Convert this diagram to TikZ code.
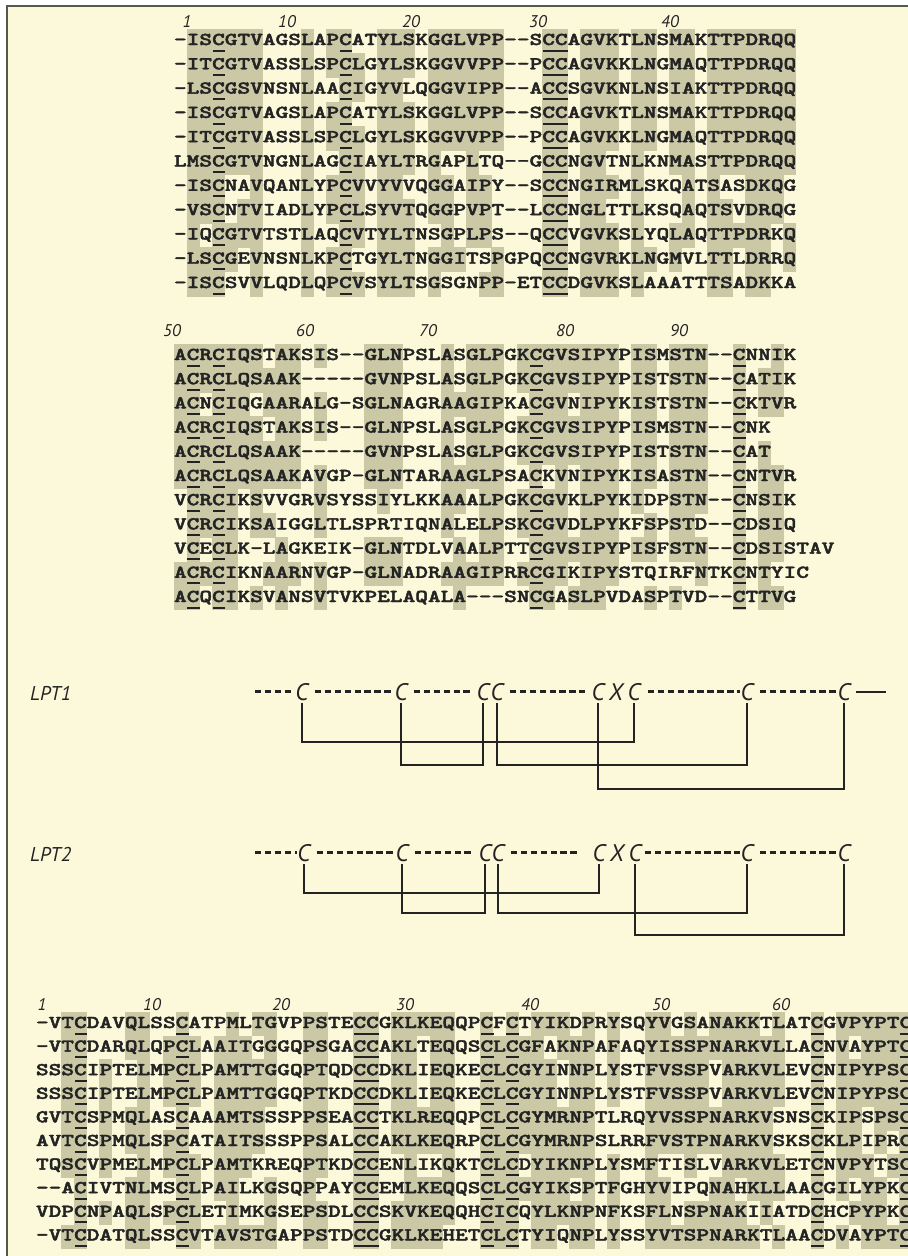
\documentclass[tikz,border=0pt]{standalone}
\usepackage{fontspec}
\newfontfamily\lblfont{PT Sans}
\IfFontExistsTF{lmmonolt10-bold.otf}
  {\newfontfamily\seqfont{lmmonolt10-bold.otf}[FakeBold=2]}
  {\newcommand\seqfont{\ttfamily\bfseries}}
\definecolor{bgcream}{HTML}{FCF9DA}
\definecolor{shadegray}{HTML}{CBC8A6}
\definecolor{framegray}{HTML}{57574E}
\definecolor{inkdark}{HTML}{232323}
\newcommand\RSpitch{12.7}
\newcommand\RSxs{1.3341}
\tikzset{
  seqrow/.style={anchor=base west, inner sep=0pt, outer sep=0pt, text=inkdark,
    font=\seqfont\fontsize{18.2}{20}\selectfont},
  rulerlbl/.style={anchor=base, inner sep=0pt, text=inkdark,
    font=\lblfont\itshape\fontsize{17}{18}\selectfont},
  lptlbl/.style={anchor=base west, inner sep=0pt, text=inkdark,
    font=\lblfont\itshape\fontsize{20}{22}\selectfont},
  cys/.style={anchor=base, inner sep=0pt, text=inkdark,
    font=\lblfont\itshape\fontsize{24}{26}\selectfont},
  dashseg/.style={draw=inkdark, line width=3pt, dash pattern=on 6.3pt off 3.7pt},
  tailseg/.style={draw=inkdark, line width=2pt},
  bond/.style={draw=inkdark, line width=1.3pt},
  shadecell/.style={fill=shadegray},
  ulbar/.style={fill=inkdark},
}
\newcommand\RSshade[5]{\fill[shadecell] ({#1+(#5-1)*\RSpitch-0.15},{#2+(#4-1)*#3-0.66*#3-0.25}) rectangle ({#1+#5*\RSpitch+0.15},{#2+(#4-1)*#3+0.34*#3+0.25});}
\newcommand\RSul[5]{\fill[ulbar] ({#1+(#5-1)*\RSpitch+0.5},{#2+(#4-1)*#3+4.6}) rectangle ({#1+#5*\RSpitch+0.5},{#2+(#4-1)*#3+6.6});}
\newcommand\RSrow[6]{\node[seqrow] (#1) at ({#2},{#3+(#5-1)*#4}) {\scalebox{\RSxs}[1]{#6}};}

\ExplSyntaxOn
\seq_new:N \l__rs_rows_seq
\int_new:N \l__rs_nrows_int
\int_new:N \l__rs_maxlen_int
\int_new:N \l__rs_col_int
\int_new:N \l__rs_r_int
\int_new:N \l__rs_cnt_int
\int_new:N \l__rs_best_int
\tl_new:N \l__rs_best_tl
\tl_new:N \l__rs_c_tl
\tl_new:N \l__rs_g_tl
\tl_new:N \l__rs_tmp_tl
\tl_new:N \l__rs_colstr_tl
\tl_new:N \l__rs_x_tl
\tl_new:N \l__rs_y_tl
\tl_new:N \l__rs_dy_tl
\tl_new:N \l__rs_name_tl
\tl_new:N \l__rs_text_tl
\tl_new:N \l__rs_ul_tl
\tl_const:Nn \c__rs_C_tl {C}

\cs_new_protected:Npn \__rs_group:nN #1#2
  {
    \str_case:nnF {#1}
      {
        {I}{\tl_set:Nn #2 {L}}
        {L}{\tl_set:Nn #2 {L}}
        {V}{\tl_set:Nn #2 {L}}
        {M}{\tl_set:Nn #2 {L}}
        {S}{\tl_set:Nn #2 {S}}
        {T}{\tl_set:Nn #2 {S}}
        {D}{\tl_set:Nn #2 {D}}
        {E}{\tl_set:Nn #2 {D}}
        {N}{\tl_set:Nn #2 {N}}
        {Q}{\tl_set:Nn #2 {N}}
        {K}{\tl_set:Nn #2 {K}}
        {R}{\tl_set:Nn #2 {K}}
        {F}{\tl_set:Nn #2 {F}}
        {Y}{\tl_set:Nn #2 {F}}
        {W}{\tl_set:Nn #2 {F}}
        {A}{\tl_set:Nn #2 {A}}
        {G}{\tl_set:Nn #2 {G}}
        {P}{\tl_set:Nn #2 {P}}
        {C}{\tl_set:Nn #2 {C}}
        {H}{\tl_set:Nn #2 {H}}
      }
      { \tl_set:Nn #2 {.} }
  }
\cs_generate_variant:Nn \__rs_group:nN { V }

\cs_new_protected:Npn \__rs_len:n #1
  {
    \int_set:Nn \l__rs_maxlen_int
      { \int_max:nn { \l__rs_maxlen_int } { \str_count:n {#1} } }
  }

\cs_new_protected:Npn \__rs_addrow:n #1
  {
    \tl_set:Nx \l__rs_c_tl { \str_item:nn {#1} { \l__rs_col_int } }
    \__rs_group:VN \l__rs_c_tl \l__rs_g_tl
    \tl_put_right:NV \l__rs_colstr_tl \l__rs_g_tl
  }

\cs_new_protected:Npn \__rs_mark:n #1
  {
    \int_incr:N \l__rs_r_int
    \tl_set:Nx \l__rs_c_tl { \str_item:nn {#1} { \l__rs_col_int } }
    \__rs_group:VN \l__rs_c_tl \l__rs_g_tl
    \int_compare:nNnT { 2 * \l__rs_best_int } > { \l__rs_nrows_int }
      {
        \tl_if_eq:NNT \l__rs_g_tl \l__rs_best_tl
          {
            \use:x
              {
                \exp_not:N \RSshade
                  { \l__rs_x_tl } { \l__rs_y_tl } { \l__rs_dy_tl }
                  { \int_use:N \l__rs_r_int } { \int_use:N \l__rs_col_int }
              }
            \tl_if_eq:NNT \l__rs_g_tl \c__rs_C_tl
              {
                \tl_put_right:Nx \l__rs_ul_tl
                  {
                    \exp_not:N \RSul
                      { \l__rs_x_tl } { \l__rs_y_tl } { \l__rs_dy_tl }
                      { \int_use:N \l__rs_r_int } { \int_use:N \l__rs_col_int }
                  }
              }
          }
      }
  }

\cs_new_protected:Npn \__rs_column:n #1
  {
    \int_set:Nn \l__rs_col_int {#1}
    \tl_clear:N \l__rs_colstr_tl
    \seq_map_function:NN \l__rs_rows_seq \__rs_addrow:n
    \int_zero:N \l__rs_best_int
    \tl_set:Nn \l__rs_best_tl {.}
    \clist_map_inline:nn {L,S,D,N,K,F,A,G,P,C,H}
      {
        \tl_set_eq:NN \l__rs_tmp_tl \l__rs_colstr_tl
        \tl_remove_all:Nn \l__rs_tmp_tl {##1}
        \int_set:Nn \l__rs_cnt_int
          { \tl_count:N \l__rs_colstr_tl - \tl_count:N \l__rs_tmp_tl }
        \int_compare:nNnT { \l__rs_cnt_int } > { \l__rs_best_int }
          {
            \int_set_eq:NN \l__rs_best_int \l__rs_cnt_int
            \tl_set:Nn \l__rs_best_tl {##1}
          }
      }
    \int_zero:N \l__rs_r_int
    \seq_map_function:NN \l__rs_rows_seq \__rs_mark:n
  }

\cs_new_protected:Npn \__rs_rowtext:n #1
  {
    \int_incr:N \l__rs_r_int
    \tl_set:Nn \l__rs_text_tl {#1}
    \tl_replace_all:Nnn \l__rs_text_tl { - } { \mbox{-} }
    \use:x
      {
        \exp_not:N \RSrow
          { \l__rs_name_tl \int_use:N \l__rs_r_int }
          { \l__rs_x_tl } { \l__rs_y_tl } { \l__rs_dy_tl } { \int_use:N \l__rs_r_int }
          { \exp_not:V \l__rs_text_tl }
      }
  }

\NewDocumentCommand \SeqBlock { m m m m m }
  {
    \tl_set:Nn \l__rs_x_tl {#1}
    \tl_set:Nn \l__rs_y_tl {#2}
    \tl_set:Nn \l__rs_dy_tl {#3}
    \tl_set:Nn \l__rs_name_tl {#4}
    \seq_set_from_clist:Nn \l__rs_rows_seq {#5}
    \int_set:Nn \l__rs_nrows_int { \seq_count:N \l__rs_rows_seq }
    \int_zero:N \l__rs_maxlen_int
    \seq_map_function:NN \l__rs_rows_seq \__rs_len:n
    \tl_clear:N \l__rs_ul_tl
    \int_step_function:nN { \l__rs_maxlen_int } \__rs_column:n
    \tl_use:N \l__rs_ul_tl
    \int_zero:N \l__rs_r_int
    \seq_map_function:NN \l__rs_rows_seq \__rs_rowtext:n
  }
\ExplSyntaxOff

\begin{document}
\begin{tikzpicture}[x=1bp, y=-1bp]
\useasboundingbox (0,0) rectangle (908,1256);
\fill[white] (0,0) rectangle (908,1256);
\fill[bgcream] (7,6) rectangle (908,1256);

% ---------- top block ----------
\node[rulerlbl] (tn1)  at (187,27) {1};
\node[rulerlbl] (tn10) at (287,27) {10};
\node[rulerlbl] (tn20) at (411,27) {20};
\node[rulerlbl] (tn30) at (538,27) {30};
\node[rulerlbl] (tn40) at (670,27) {40};
\SeqBlock{174}{45}{24.3}{top}{
-ISCGTVAGSLAPCATYLSKGGLVPP--SCCAGVKTLNSMAKTTPDRQQ,
-ITCGTVASSLSPCLGYLSKGGVVPP--PCCAGVKKLNGMAQTTPDRQQ,
-LSCGSVNSNLAACIGYVLQGGVIPP--ACCSGVKNLNSIAKTTPDRQQ,
-ISCGTVAGSLAPCATYLSKGGLVPP--SCCAGVKTLNSMAKTTPDRQQ,
-ITCGTVASSLSPCLGYLSKGGVVPP--PCCAGVKKLNGMAQTTPDRQQ,
LMSCGTVNGNLAGCIAYLTRGAPLTQ--GCCNGVTNLKNMASTTPDRQQ,
-ISCNAVQANLYPCVVYVVQGGAIPY--SCCNGIRMLSKQATSASDKQG,
-VSCNTVIADLYPCLSYVTQGGPVPT--LCCNGLTTLKSQAQTSVDRQG,
-IQCGTVTSTLAQCVTYLTNSGPLPS--QCCVGVKSLYQLAQTTPDRKQ,
-LSCGEVNSNLKPCTGYLTNGGITSPGPQCCNGVRKLNGMVLTTLDRRQ,
-ISCSVVLQDLQPCVSYLTSGSGNPP-ETCCDGVKSLAAATTTSADKKA}

% ---------- middle block ----------
\node[rulerlbl] (mn50) at (172,336) {50};
\node[rulerlbl] (mn60) at (305,336) {60};
\node[rulerlbl] (mn70) at (428,336) {70};
\node[rulerlbl] (mn80) at (565,336) {80};
\node[rulerlbl] (mn90) at (679,336) {90};
\SeqBlock{174}{360}{24.2}{mid}{
ACRCIQSTAKSIS--GLNPSLASGLPGKCGVSIPYPISMSTN--CNNIK,
ACRCLQSAAK-----GVNPSLASGLPGKCGVSIPYPISTSTN--CATIK,
ACNCIQGAARALG-SGLNAGRAAGIPKACGVNIPYKISTSTN--CKTVR,
ACRCIQSTAKSIS--GLNPSLASGLPGKCGVSIPYPISMSTN--CNK,
ACRCLQSAAK-----GVNPSLASGLPGKCGVSIPYPISTSTN--CAT,
ACRCLQSAAKAVGP-GLNTARAAGLPSACKVNIPYKISASTN--CNTVR,
VCRCIKSVVGRVSYSSIYLKKAAALPGKCGVKLPYKIDPSTN--CNSIK,
VCRCIKSAIGGLTLSPRTIQNALELPSKCGVDLPYKFSPSTD--CDSIQ,
VCECLK-LAGKEIK-GLNTDLVAALPTTCGVSIPYPISFSTN--CDSISTAV,
ACRCIKNAARNVGP-GLNADRAAGIPRRCGIKIPYSTQIRFNTKCNTYIC,
ACQCIKSVANSVTVKPELAQALA---SNCGASLPVDASPTVD--CTTVG}

% ---------- LPT1 ----------
\node[lptlbl] (lpt1) at (30,700) {LPT1};
\node[cys] (a1) at (302,700) {C};
\node[cys] (a2) at (401,700) {C};
\node[cys] (a3) at (483,700) {C};
\node[cys] (a4) at (497,700) {C};
\node[cys] (a5) at (598,700) {C};
\node[cys] (ax) at (616,700) {X};
\node[cys] (a6) at (634,700) {C};
\node[cys] (a7) at (747,700) {C};
\node[cys] (a8) at (844,700) {C};
\path (a1.center) ++(-47,0) coordinate (a0);
\path (a8.center) ++(42,0) coordinate (a9);
\draw[dashseg] (a0) -- ([xshift=-0.5pt]a1.west);
\draw[dashseg] ([xshift=6pt]a1.east) -- ([xshift=-0.5pt]a2.west);
\draw[dashseg] ([xshift=6pt]a2.east) -- ([xshift=-5pt]a3.west);
\draw[dashseg] ([xshift=6pt]a4.east) -- ([xshift=-6pt]a5.west);
\draw[dashseg] ([xshift=7pt]a6.east) -- ([xshift=-0.5pt]a7.west);
\draw[dashseg] ([xshift=6pt]a7.east) -- ([xshift=-0.5pt]a8.west);
\draw[tailseg] ([xshift=5pt]a8.east) -- (a9);
\draw[bond] ([yshift=-3pt]a1.south) -- (a1.south |- 0,742) -| ([yshift=-3pt]a6.south);
\draw[bond] ([yshift=-3pt]a2.south) -- (a2.south |- 0,765) -| ([yshift=-3pt]a3.south);
\draw[bond] ([yshift=-3pt]a4.south) -- (a4.south |- 0,765) -| ([yshift=-3pt]a7.south);
\draw[bond] ([yshift=-3pt]a5.south) -- (a5.south |- 0,789) -| ([yshift=-3pt]a8.south);

% ---------- LPT2 ----------
\node[lptlbl] (lpt2) at (30,861) {LPT2};
\node[cys] (b1) at (304,861) {C};
\node[cys] (b2) at (402,861) {C};
\node[cys] (b3) at (485,861) {C};
\node[cys] (b4) at (498,861) {C};
\node[cys] (b5) at (599,861) {C};
\node[cys] (bx) at (617,861) {X};
\node[cys] (b6) at (635,861) {C};
\node[cys] (b7) at (747,861) {C};
\node[cys] (b8) at (844,861) {C};
\path (b1.center) ++(-49,0) coordinate (b0);
\draw[dashseg] (b0) -- ([xshift=-0.5pt]b1.west);
\draw[dashseg] ([xshift=6pt]b1.east) -- ([xshift=-0.5pt]b2.west);
\draw[dashseg] ([xshift=6pt]b2.east) -- ([xshift=-5pt]b3.west);
\draw[dashseg] ([xshift=6pt]b4.east) -- ([xshift=-14pt]b5.west);
\draw[dashseg] ([xshift=3pt]b6.east) -- ([xshift=-0.5pt]b7.west);
\draw[dashseg] ([xshift=6pt]b7.east) -- ([xshift=-0.5pt]b8.west);
\draw[bond] ([yshift=-3pt]b1.south) -- (b1.south |- 0,893) -| ([yshift=-3pt]b5.south);
\draw[bond] ([yshift=-3pt]b2.south) -- (b2.south |- 0,913) -| ([yshift=-3pt]b3.south);
\draw[bond] ([yshift=-3pt]b4.south) -- (b4.south |- 0,913) -| ([yshift=-3pt]b7.south);
\draw[bond] ([yshift=-3pt]b6.south) -- (b6.south |- 0,935) -| ([yshift=-3pt]b8.south);

% ---------- bottom block ----------
\node[rulerlbl] (bn1)  at (42,1010) {1};
\node[rulerlbl] (bn10) at (152,1010) {10};
\node[rulerlbl] (bn20) at (281,1010) {20};
\node[rulerlbl] (bn30) at (405,1010) {30};
\node[rulerlbl] (bn40) at (530,1010) {40};
\node[rulerlbl] (bn50) at (661,1010) {50};
\node[rulerlbl] (bn60) at (781,1010) {60};
\SeqBlock{36}{1028}{23.6}{bot}{
-VTCDAVQLSSCATPMLTGVPPSTECCGKLKEQQPCFCTYIKDPRYSQYVGSANAKKTLATCGVPYPTC,
-VTCDARQLQPCLAAITGGGQPSGACCAKLTEQQSCLCGFAKNPAFAQYISSPNARKVLLACNVAYPTC,
SSSCIPTELMPCLPAMTTGGQPTQDCCDKLIEQKECLCGYINNPLYSTFVSSPVARKVLEVCNIPYPSC,
SSSCIPTELMPCLPAMTTGGQPTKDCCDKLIEQKECLCGYINNPLYSTFVSSPVARKVLEVCNIPYPSC,
GVTCSPMQLASCAAAMTSSSPPSEACCTKLREQQPCLCGYMRNPTLRQYVSSPNARKVSNSCKIPSPSC,
AVTCSPMQLSPCATAITSSSPPSALCCAKLKEQRPCLCGYMRNPSLRRFVSTPNARKVSKSCKLPIPRC,
TQSCVPMELMPCLPAMTKREQPTKDCCENLIKQKTCLCDYIKNPLYSMFTISLVARKVLETCNVPYTSC,
--ACIVTNLMSCLPAILKGSQPPAYCCEMLKEQQSCLCGYIKSPTFGHYVIPQNAHKLLAACGILYPKC,
VDPCNPAQLSPCLETIMKGSEPSDLCCSKVKEQQHCICQYLKNPNFKSFLNSPNAKIIATDCHCPYPKC,
-VTCDATQLSSCVTAVSTGAPPSTDCCGKLKEHETCLCTYIQNPLYSSYVTSPNARKTLAACDVAYPTC}

% ---------- frame ----------
\draw[framegray, line width=1.6pt] (7,1256) -- (7,6) -- (908,6);
\end{tikzpicture}
\end{document}
